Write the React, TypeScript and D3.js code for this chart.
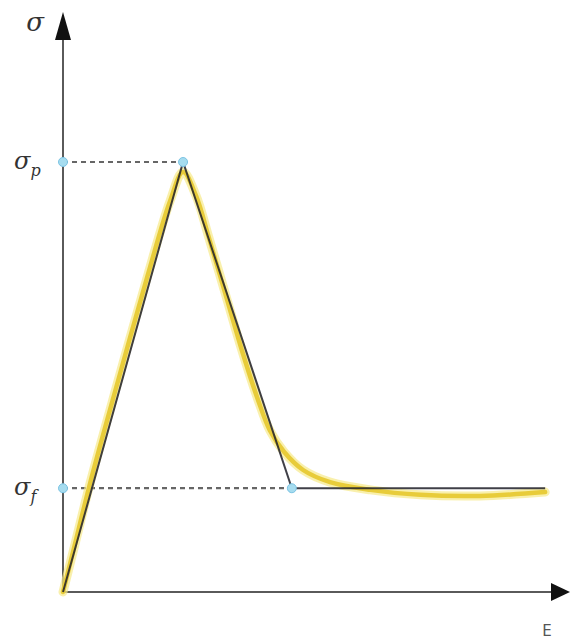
import * as d3 from "d3";
import { useRef, useEffect } from "react";

// idealised trilinear model (black)
const modelStrain = [0, 2.45, 4.67, 9.84];
const modelStress = [0, 7.79, 1.88, 1.88];

// measured curve (yellow)
const testStrain = [0, 0.24, 0.57, 1.1, 1.73, 2.18, 2.45, 2.71, 2.98, 3.35, 3.65, 3.98, 4.22, 4.51, 4.9, 5.45, 6.27, 7.29, 8.51, 9.84];
const testStress = [0, 0.85, 2.03, 3.75, 5.74, 7.07, 7.61, 7.19, 6.41, 5.29, 4.38, 3.48, 2.93, 2.54, 2.21, 1.99, 1.85, 1.76, 1.74, 1.81];

// key points: peak and residual
const keyLabels = ["p", "f"];
const keyStrain = [2.45, 4.67];
const keyStress = [7.79, 1.88];

function App() {
  const width = 572;
  const height = 641;
  const svgRef = useRef<SVGSVGElement>(null);

  useEffect(() => {
    const svg = d3.select(svgRef.current);
    svg.selectAll("*").remove();

    const x = d3.scaleLinear().domain([0, 10]).range([63, 553]);
    const y = d3.scaleLinear().domain([0, 10]).range([592, 40]);
    const x0 = x(0);
    const y0 = y(0);

    // axes
    svg.append("line")
      .attr("x1", x0).attr("y1", y0).attr("x2", x0).attr("y2", 30)
      .attr("stroke", "#5a5a5a").attr("stroke-width", 2);
    svg.append("line")
      .attr("x1", x0).attr("y1", y0).attr("x2", 556).attr("y2", y0)
      .attr("stroke", "#5a5a5a").attr("stroke-width", 2);
    svg.append("path")
      .attr("d", `M${x0},12 L${x0 - 8},40 L${x0 + 8},40 Z`)
      .attr("fill", "#111");
    svg.append("path")
      .attr("d", `M570,${y0} L551,${y0 - 9} L551,${y0 + 9} Z`)
      .attr("fill", "#111");

    // dashed guides
    keyStress.forEach((s, i) => {
      svg.append("line")
        .attr("x1", x0).attr("x2", x(keyStrain[i]))
        .attr("y1", y(s)).attr("y2", y(s))
        .attr("stroke", "#666").attr("stroke-width", 2.2)
        .attr("stroke-dasharray", "5,4");
    });

    const line = d3.line<[number, number]>()
      .x((d) => x(d[0]))
      .y((d) => y(d[1]));

    const testPts: [number, number][] = testStrain.map((e, i) => [e, testStress[i]]);
    const modelPts: [number, number][] = modelStrain.map((e, i) => [e, modelStress[i]]);

    svg.append("path")
      .datum(testPts)
      .attr("d", line.curve(d3.curveCatmullRom.alpha(0.5)))
      .attr("fill", "none")
      .attr("stroke", "#f6ea8a")
      .attr("stroke-width", 9)
      .attr("stroke-linecap", "round")
      .attr("opacity", 0.7);
    svg.append("path")
      .datum(testPts)
      .attr("d", line.curve(d3.curveCatmullRom.alpha(0.5)))
      .attr("fill", "none")
      .attr("stroke", "#e8cc3a")
      .attr("stroke-width", 4.5)
      .attr("stroke-linecap", "round");

    svg.append("path")
      .datum(modelPts)
      .attr("d", line.curve(d3.curveLinear))
      .attr("fill", "none")
      .attr("stroke", "#1f1f28")
      .attr("stroke-width", 2)
      .attr("opacity", 0.85);

    // markers
    const marks: [number, number][] = [];
    keyStress.forEach((s, i) => {
      marks.push([0, s]);
      marks.push([keyStrain[i], s]);
    });
    svg.selectAll(".mark")
      .data(marks)
      .join("circle")
      .attr("class", "mark")
      .attr("cx", (d) => x(d[0]))
      .attr("cy", (d) => y(d[1]))
      .attr("r", 4.5)
      .attr("fill", "#a6dcef")
      .attr("stroke", "#7cc4e4")
      .attr("stroke-width", 1);

    // labels
    svg.append("text")
      .attr("x", 35).attr("y", 31)
      .attr("text-anchor", "middle")
      .style("font-family", "'DejaVu Serif', serif")
      .style("font-style", "italic")
      .style("font-size", "26px")
      .attr("fill", "#333")
      .text("σ");

    keyStress.forEach((s, i) => {
      const t = svg.append("text")
        .attr("x", 14).attr("y", y(s) + 7)
        .style("font-family", "'DejaVu Serif', serif")
        .style("font-style", "italic")
        .style("font-size", "24px")
        .attr("fill", "#333");
      t.append("tspan").text("σ");
      t.append("tspan")
        .attr("dy", 7)
        .style("font-size", "16px")
        .text(keyLabels[i]);
    });

    svg.append("text")
      .attr("x", 547).attr("y", 636)
      .attr("text-anchor", "middle")
      .style("font-family", "'DejaVu Sans', sans-serif")
      .style("font-size", "15px")
      .attr("fill", "#555")
      .text("E");
  }, []);

  return (
    <svg
      ref={svgRef}
      width={width}
      height={height}
      viewBox={`0 0 ${width} ${height}`}
      style={{ position: "absolute", left: 0, top: 0, background: "#fff" }}
    />
  );
}

export default App;
